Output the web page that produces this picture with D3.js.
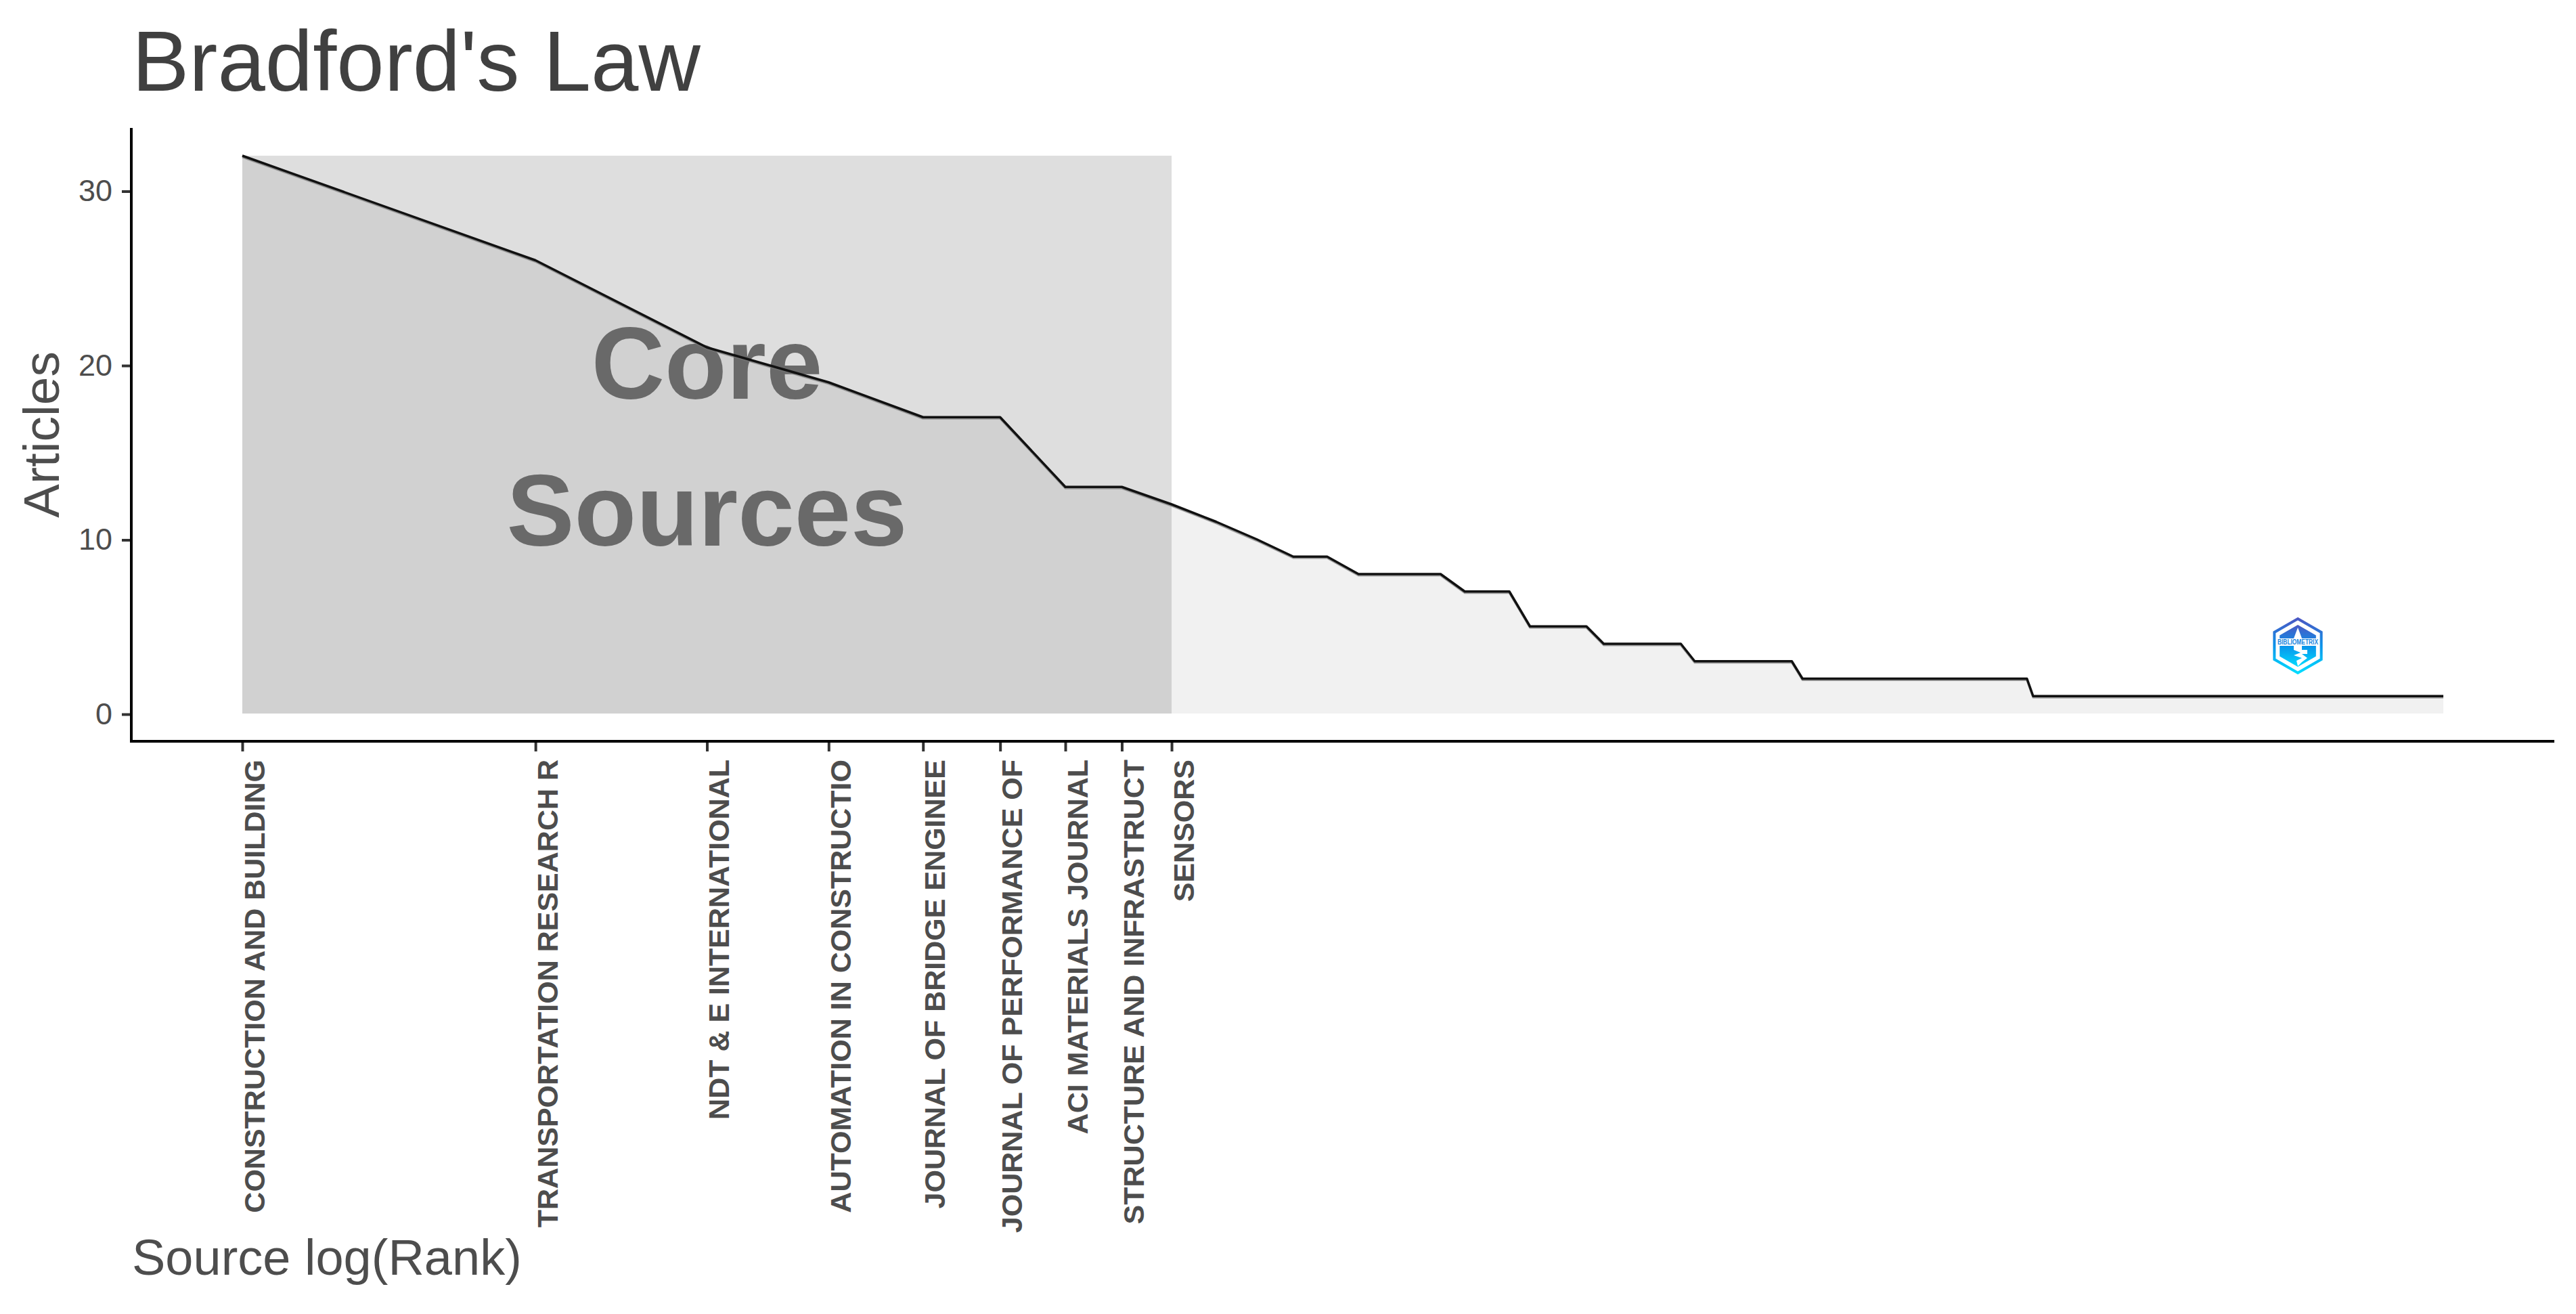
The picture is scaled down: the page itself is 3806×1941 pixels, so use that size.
<!DOCTYPE html>
<html>
<head>
<meta charset="utf-8">
<script src="https://cdn.jsdelivr.net/npm/d3@7"></script>
<style>
html,body{margin:0;padding:0;background:#fff;overflow:hidden}
svg{display:block}
text{font-family:"Liberation Sans",Arial,sans-serif}
</style>
</head>
<body>
<svg id="chart" width="3806" height="1941"></svg>
<script>
const chartTitle = "Bradford's Law";
const xTitle = "Source log(Rank)";
const yTitle = "Articles";
const coreLabel = ["Core", "Sources"];
const coreSources = [
  "CONSTRUCTION AND BUILDING",
  "TRANSPORTATION RESEARCH R",
  "NDT & E INTERNATIONAL",
  "AUTOMATION IN CONSTRUCTIO",
  "JOURNAL OF BRIDGE ENGINEE",
  "JOURNAL OF PERFORMANCE OF",
  "ACI MATERIALS JOURNAL",
  "STRUCTURE AND INFRASTRUCT",
  "SENSORS"
];
const coreRanks = [1, 2, 3, 4, 5, 6, 7, 8, 9];
const yTicks = [0, 10, 20, 30];
// Articles per source, in rank order (rank = position + 1)
const articles = [
  32,26,21,19,17,17,13,13,12,11,10,9,9,
  8,8,8,8,7,7,7,5,5,5,5,4,4,4,4,4,4,
  3,3,3,3,3,3,3,3,3,
  2,2,2,2,2,2,2,2,2,2,2,2,2,2,2,2,2,2,2,2,2,2,2,2,2,2,2,2,2,
  1,1,1,1,1,1,1,1,1,1,1,1,1,1,1,1,1,1,1,1,1,1,1,1,1,1,1,1,1,1,1,1,
  1,1,1,1,1,1,1,1,1,1,1,1,1,1,1,1,1,1,1,1,1,1,1,1,1,1,1,1,1,1,1,1,
  1,1,1,1,1,1,1,1,1,1,1,1,1,1,1,1,1,1,1,1,1,1,1,1,1,1,1,1,1,1,1,1,
  1,1,1,1,1,1,1,1,1,1,1,1,1,1,1,1,1,1
];
const series = articles.map((v, i) => ({rank: i + 1, value: v}));

const svg = d3.select("#chart");
const x = d3.scaleLog().domain([1, articles.length]).range([358, 3610]);
const y = d3.scaleLinear().domain([0, 32]).range([1054, 230]);

const axisLeftX = 194, axisBottomY = 1095, axisTopY = 189, axisRightX = 3774;
const textGrey = "#4d4d4d", tickGrey = "#333333";

// Core-zone rectangle
svg.append("rect")
  .attr("x", x(1)).attr("y", y(32))
  .attr("width", x(9) - x(1)).attr("height", y(0) - y(32))
  .attr("fill", "#000").attr("fill-opacity", 0.13);

// Area under the curve
svg.append("path").datum(series)
  .attr("d", d3.area().x(d => x(d.rank)).y0(y(0)).y1(d => y(d.value)))
  .attr("fill", "#000").attr("fill-opacity", 0.055);

// Core Sources annotation
svg.append("g").selectAll("text").data(coreLabel).join("text")
  .attr("x", x(3)).attr("y", (d, i) => 589 + i * 217)
  .attr("text-anchor", "middle")
  .attr("font-size", 150).attr("font-weight", "bold").attr("fill", "#696969")
  .text(d => d);

// Curve, with the soft grey edge under it that the reference shows
const curve = d3.line().x(d => x(d.rank)).y(d => y(d.value));
svg.append("path").datum(series)
  .attr("d", curve).attr("transform", "translate(0,2)")
  .attr("fill", "none").attr("stroke", "#777").attr("stroke-opacity", 0.7)
  .attr("stroke-width", 3).attr("stroke-linejoin", "round");
svg.append("path").datum(series)
  .attr("d", curve)
  .attr("fill", "none").attr("stroke", "#111").attr("stroke-width", 3.5)
  .attr("stroke-linejoin", "round");

// Y axis
const gy = svg.append("g").attr("transform", `translate(${axisLeftX},1)`)
  .call(d3.axisLeft(y).tickValues(yTicks).tickSize(14).tickPadding(14));
gy.select(".domain").remove();
gy.selectAll(".tick line").attr("stroke", tickGrey).attr("stroke-width", 4);
gy.selectAll(".tick text").attr("font-size", 45).attr("fill", textGrey)
  .attr("font-family", '"Liberation Sans",Arial,sans-serif');

// X axis
const gx = svg.append("g").attr("transform", `translate(0,${axisBottomY})`)
  .call(d3.axisBottom(x).tickValues(coreRanks)
    .tickFormat((d, i) => coreSources[i]).tickSize(15));
gx.select(".domain").remove();
gx.selectAll(".tick line").attr("stroke", tickGrey).attr("stroke-width", 4);
gx.selectAll(".tick text")
  .attr("transform", "translate(32,27) rotate(-90)")
  .attr("x", 0).attr("y", 0).attr("dy", 0)
  .attr("text-anchor", "end")
  .attr("font-size", 43).attr("font-weight", "bold").attr("fill", textGrey)
  .attr("font-family", '"Liberation Sans",Arial,sans-serif');

// Axis lines
svg.append("path")
  .attr("d", d3.line()([[axisLeftX, axisTopY], [axisLeftX, axisBottomY], [axisRightX, axisBottomY]]))
  .attr("fill", "none").attr("stroke", "#000").attr("stroke-width", 4);

// Titles
svg.append("text").attr("x", 195).attr("y", 134)
  .attr("font-size", 126.5).attr("fill", "#404040").text(chartTitle);
svg.append("text").attr("x", 195).attr("y", 1883)
  .attr("font-size", 74).attr("fill", textGrey).text(xTitle);
svg.append("text").attr("transform", "translate(87,642) rotate(-90)")
  .attr("text-anchor", "middle")
  .attr("font-size", 75).attr("fill", textGrey).text(yTitle);

// Logo badge
const defs = svg.append("defs");
const grad = defs.append("linearGradient").attr("id", "logoGrad")
  .attr("x1", 0).attr("y1", 0).attr("x2", 0).attr("y2", 1);
grad.append("stop").attr("offset", "0%").attr("stop-color", "#4a58c4");
grad.append("stop").attr("offset", "50%").attr("stop-color", "#0a93ea");
grad.append("stop").attr("offset", "100%").attr("stop-color", "#00dcff");

const logo = svg.append("g").attr("transform", "translate(3395,954)");
const hex = r => d3.line()([[0,-r],[r*0.866,-r*0.5],[r*0.866,r*0.5],[0,r],[-r*0.866,r*0.5],[-r*0.866,-r*0.5]]) + "Z";
logo.append("path").attr("d", hex(40)).attr("fill", "none")
  .attr("stroke", "url(#logoGrad)").attr("stroke-width", 4);
logo.append("path").attr("d", hex(31)).attr("fill", "url(#logoGrad)");
logo.append("rect").attr("x", -32).attr("y", -11).attr("width", 64).attr("height", 11).attr("fill", "#fff");
logo.append("text").attr("x", 0).attr("y", -2).attr("text-anchor", "middle")
  .attr("font-size", 10).attr("font-weight", "bold").attr("fill", "#1a86e0")
  .attr("textLength", 60).attr("lengthAdjust", "spacingAndGlyphs").text("BIBLIOMETRIX");
logo.append("path").attr("d", "M0,-27L6,-11L-6,-11Z").attr("fill", "#fff");
logo.append("path")
  .attr("d", "M-6,0L6,0L6,6L14,6L14,12L6,12L14,18L6,24L0,30L-2,22L6,18L-6,14L4,10L-6,6Z")
  .attr("fill", "#fff");
</script>
</body>
</html>
